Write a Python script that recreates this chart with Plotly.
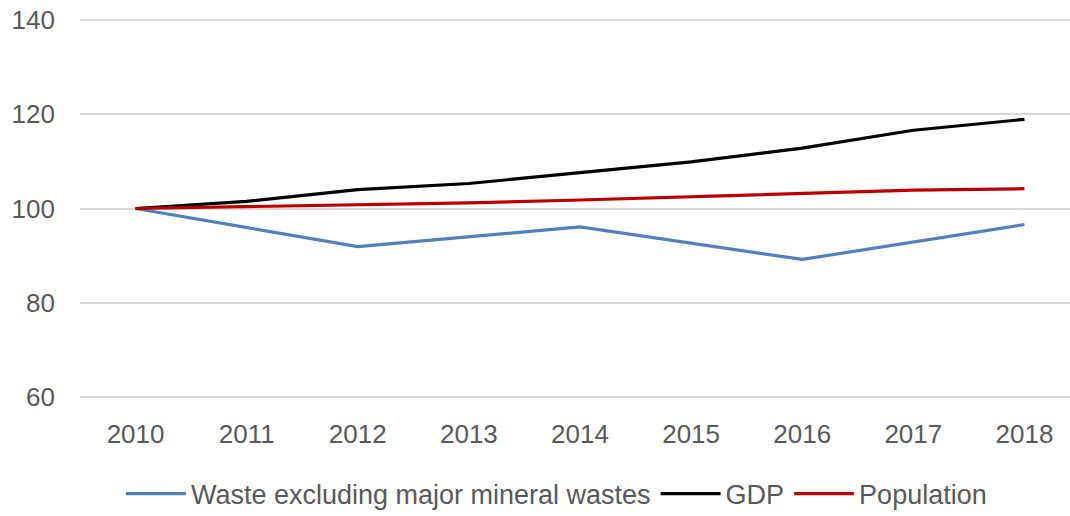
import plotly.graph_objects as go

years = ["2010", "2011", "2012", "2013", "2014", "2015", "2016", "2017", "2018"]
waste = [100, None, 91.9, None, 96.1, None, 89.2, None, 96.6]
gdp = [100, 101.5, 104.0, 105.3, 107.6, 109.9, 112.8, 116.6, 118.9]
population = [100, 100.4, 100.8, 101.2, 101.8, 102.5, 103.1, 103.9, 104.2]

FONT = "Liberation Sans, Arial, sans-serif"
GREY = "#595959"

fig = go.Figure()
fig.add_trace(go.Scatter(x=years, y=waste, mode="lines", name="Waste excluding major mineral wastes",
                         line=dict(color="#4f81bd", width=3.2), connectgaps=True))
fig.add_trace(go.Scatter(x=years, y=gdp, mode="lines", name="GDP",
                         line=dict(color="#000000", width=3.2)))
fig.add_trace(go.Scatter(x=years, y=population, mode="lines", name="Population",
                         line=dict(color="#c00000", width=3.2)))

fig.update_layout(
    width=1070, height=516,
    margin=dict(l=80, r=0, t=18, b=117),
    paper_bgcolor="white", plot_bgcolor="white",
    font=dict(family=FONT, size=26, color=GREY),
    showlegend=True,
    legend=dict(orientation="h", xref="container", yref="container",
                x=0.52, y=1 - 494 / 516, xanchor="center", yanchor="middle",
                font=dict(family=FONT, size=27, color=GREY),
                itemwidth=60, tracegroupgap=0, bgcolor="rgba(0,0,0,0)"),
    hovermode=False,
)
fig.update_xaxes(type="category", range=[-0.5, 8.41], showgrid=False, showline=False,
                 ticks="", ticklabelstandoff=17, tickfont=dict(family=FONT, size=26, color=GREY))
fig.update_yaxes(range=[59.6, 140.4], tickvals=[60, 80, 100, 120, 140], showgrid=True,
                 gridcolor="#d9d9d9", gridwidth=1.5, zeroline=False, showline=False,
                 ticks="", ticklabelstandoff=24, tickfont=dict(family=FONT, size=26, color=GREY))

fig.write_html("out.html", config={"displayModeBar": False},
               post_script="document.body.style.margin='0';")
